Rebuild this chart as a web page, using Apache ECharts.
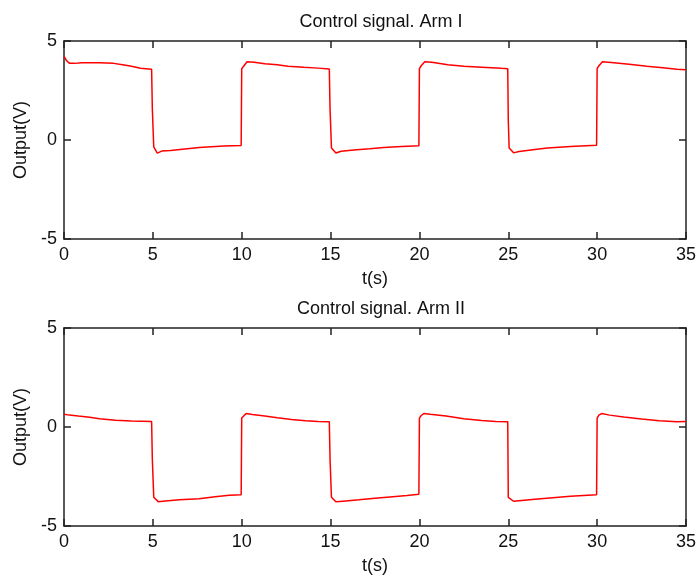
<!DOCTYPE html>
<html>
<head>
<meta charset="utf-8">
<script src="https://cdn.jsdelivr.net/npm/echarts@6/dist/echarts.min.js"></script>
<style>
html,body{margin:0;padding:0;background:#fff;}
#chart{width:699px;height:579px;}
</style>
</head>
<body>
<div id="chart"></div>
<script>
// ---- data ----
var titles = ['Control signal. Arm I', 'Control signal. Arm II'];
var xName = 't(s)';
var yName = 'Output(V)';
var xMin = 0, xMax = 35, xStep = 5;
var yMin = -5, yMax = 5, yStep = 5;

// Arm I: [t (s), output (V)]
var armI = [
  [0,4.22],[0.15,4.0],[0.3,3.88],[0.6,3.87],[1.0,3.9],[2.0,3.9],[2.8,3.87],[3.3,3.8],[3.8,3.72],[4.3,3.62],[4.93,3.57],
  [4.97,1.6],[5.05,-0.35],[5.25,-0.66],[5.5,-0.56],[6.0,-0.53],[6.8,-0.45],[7.6,-0.38],[8.3,-0.34],[9.0,-0.3],[9.97,-0.28],
  [10.0,3.6],[10.1,3.7],[10.3,3.95],[10.7,3.93],[11.3,3.85],[12.0,3.8],[12.6,3.72],[13.5,3.67],[14.3,3.63],[14.93,3.58],
  [14.97,1.6],[15.05,-0.4],[15.3,-0.66],[15.6,-0.57],[16.3,-0.5],[17.2,-0.44],[18.0,-0.38],[19.0,-0.33],[19.97,-0.29],
  [20.0,3.6],[20.1,3.75],[20.3,3.95],[20.7,3.93],[21.6,3.8],[22.5,3.73],[23.5,3.68],[24.6,3.62],[24.97,3.6],
  [25.0,1.0],[25.05,-0.4],[25.3,-0.65],[25.6,-0.58],[26.5,-0.48],[27.2,-0.4],[28.5,-0.33],[29.97,-0.27],
  [30.0,3.6],[30.1,3.75],[30.3,3.95],[30.8,3.92],[31.8,3.82],[32.8,3.72],[33.7,3.65],[34.5,3.57],[35,3.55]
];

// Arm II: [t (s), output (V)]
var armII = [
  [0,0.64],[0.3,0.6],[0.8,0.55],[1.44,0.49],[2.0,0.42],[2.9,0.34],[3.8,0.3],[4.93,0.28],
  [4.97,-1.6],[5.05,-3.55],[5.3,-3.77],[5.7,-3.74],[6.5,-3.68],[7.6,-3.62],[8.5,-3.52],[9.3,-3.45],[9.97,-3.42],
  [10.0,0.45],[10.1,0.55],[10.25,0.68],[10.6,0.63],[11.3,0.55],[12.0,0.47],[12.8,0.38],[13.6,0.32],[14.3,0.28],[14.93,0.27],
  [14.97,-1.6],[15.05,-3.55],[15.3,-3.78],[15.7,-3.75],[16.6,-3.68],[17.5,-3.6],[18.5,-3.52],[19.3,-3.46],[19.97,-3.4],
  [20.0,0.45],[20.1,0.58],[20.25,0.68],[20.6,0.64],[21.5,0.55],[22.5,0.42],[23.5,0.33],[24.3,0.28],[24.97,0.27],
  [25.0,-3.55],[25.3,-3.75],[25.6,-3.72],[26.5,-3.65],[27.5,-3.57],[28.5,-3.5],[29.97,-3.42],
  [30.0,0.45],[30.1,0.6],[30.25,0.68],[30.7,0.6],[31.5,0.5],[32.5,0.4],[33.5,0.32],[34.5,0.27],[35,0.28]
];

// ---- chart ----
var font = 'Liberation Sans, Arial, sans-serif';
var txt = '#111';
var fs = 18;
function axLine(){ return {show:true, onZero:false, lineStyle:{color:'#222', width:1.5}}; }
function tick(){ return {show:true, inside:true, length:7, lineStyle:{color:'#222', width:1.5}}; }

function xAxes(gi){
  return [
    {gridIndex:gi, type:'value', position:'bottom', min:xMin, max:xMax, interval:xStep,
     axisLine:axLine(), axisTick:tick(), splitLine:{show:false},
     axisLabel:{color:txt, fontSize:fs, fontFamily:font, margin:7},
     name:xName, nameLocation:'middle', nameGap:31,
     nameTextStyle:{color:txt, fontSize:fs, fontFamily:font}},
    {gridIndex:gi, type:'value', position:'top', min:xMin, max:xMax, interval:xStep,
     axisLine:axLine(), axisTick:tick(), splitLine:{show:false}, axisLabel:{show:false}}
  ];
}
function yAxes(gi){
  return [
    {gridIndex:gi, type:'value', position:'left', min:yMin, max:yMax, interval:yStep,
     axisLine:axLine(), axisTick:tick(), splitLine:{show:false},
     axisLabel:{color:txt, fontSize:fs, fontFamily:font, margin:7},
     name:yName, nameLocation:'middle', nameGap:31,
     nameTextStyle:{color:txt, fontSize:fs, fontFamily:font}},
    {gridIndex:gi, type:'value', position:'right', min:yMin, max:yMax, interval:yStep,
     axisLine:axLine(), axisTick:tick(), splitLine:{show:false}, axisLabel:{show:false}}
  ];
}

var chart = echarts.init(document.getElementById('chart'), null, {renderer:'canvas'});
chart.setOption({
  animation:false,
  backgroundColor:'#fff',
  title:[
    {text:titles[0], left:376, top:8, textAlign:'center',
     textStyle:{color:txt, fontSize:fs, fontWeight:'normal', fontFamily:font}},
    {text:titles[1], left:376, top:295, textAlign:'center',
     textStyle:{color:txt, fontSize:fs, fontWeight:'normal', fontFamily:font}}
  ],
  grid:[
    {left:64, right:10, top:41, height:198},
    {left:64, right:10, top:328, height:198}
  ],
  xAxis: xAxes(0).concat(xAxes(1)),
  yAxis: yAxes(0).concat(yAxes(1)),
  series:[
    {type:'line', xAxisIndex:0, yAxisIndex:0, data:armI, showSymbol:false,
     lineStyle:{color:'#ff0000', width:1.5}, itemStyle:{color:'#ff0000'}},
    {type:'line', xAxisIndex:2, yAxisIndex:2, data:armII, showSymbol:false,
     lineStyle:{color:'#ff0000', width:1.5}, itemStyle:{color:'#ff0000'}}
  ]
});
</script>
</body>
</html>
